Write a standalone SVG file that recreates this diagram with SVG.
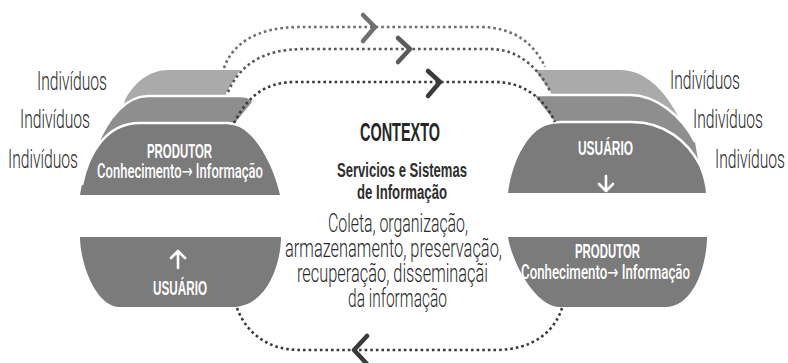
<svg xmlns="http://www.w3.org/2000/svg" width="788" height="363" viewBox="0 0 788 363">
<style>
text{font-family:"Liberation Sans Narrow","Liberation Sans",Arial,sans-serif}
.ind{font-family:Roboto,"Liberation Sans",sans-serif;font-weight:300;font-size:25px;fill:#2a2a2a}
.hd{font-size:21px;font-weight:bold;fill:#fff}
.sub{font-family:Roboto,"DejaVu Sans",sans-serif;font-weight:500;font-size:20px;fill:#fff}
.ctx{font-size:26px;font-weight:bold;fill:#262626}
.svc{font-size:21px;font-weight:bold;fill:#2e2e2e}
.body{font-family:Roboto,"Liberation Sans",sans-serif;font-weight:300;font-size:25px;fill:#2a2a2a}
.l1{fill:#7b7b7b}
.l2{fill:#8e8e8e}
.l3{fill:#aaaaaa}
.edge{fill:none;stroke:#fff;stroke-width:2.5}
.arr{fill:none;stroke:#fff;stroke-width:2.6;stroke-linecap:round;stroke-linejoin:round}
.dot{fill:none;stroke-width:2.6;stroke-dasharray:2.6 3}
.chev{fill:none;stroke-width:4.5;stroke-linecap:round;stroke-linejoin:round}
</style>

<g id="produtor-top-left">
  <path class="l3" d="M226,93 L240,70 H168 C150,70 135,82 126,98 L122,108 L226,108 Z"/>
  <path class="l2" d="M234,124 L252,102 Q250,96 240,96 H148 C128,96 108,115 95,150 L150,160 Z"/>
  <path class="edge" d="M95,150 C108,115 128,96 148,96 H240 Q249,96 251,100"/>
  <path class="l1" d="M80,195 C85,160 105,123 140,123 H227 C250,123 272,160 280,195 Z"/>
  <path class="edge" d="M82,185 C88,155 105,123 140,123 H227 C245,123 260,140 268,158"/>
  <text class="ind" x="37" y="90" textLength="70" lengthAdjust="spacingAndGlyphs">Indivíduos</text>
  <text class="ind" x="20" y="128" textLength="70" lengthAdjust="spacingAndGlyphs">Indivíduos</text>
  <text class="ind" x="8" y="168" textLength="70" lengthAdjust="spacingAndGlyphs">Indivíduos</text>
  <text class="hd" x="147" y="158" textLength="65" lengthAdjust="spacingAndGlyphs">PRODUTOR</text>
  <text class="sub" x="97" y="178" textLength="166" lengthAdjust="spacingAndGlyphs">Conhecimento→ Informação</text>
</g>

<g id="usuario-top-right">
  <path class="l3" d="M552,94 L535,70 H620 C645,70 665,90 680,120 L690,140 L600,140 Z"/>
  <path class="l2" d="M555,122 L536,97 Q535,95 540,95 H630 C655,95 682,115 695,142 L698,160 L620,170 Z"/>
  <path class="edge" d="M537,95 H630 C655,95 682,115 695,142"/>
  <path class="l1" d="M508,193 C512,160 530,122 560,122 H632 C680,122 703,160 706,193 Z"/>
  <path class="edge" d="M520,150 C528,132 540,122 560,122 H632 C665,122 688,142 700,165"/>
  <text class="ind" x="670" y="89" textLength="70" lengthAdjust="spacingAndGlyphs">Indivíduos</text>
  <text class="ind" x="693" y="128" textLength="70" lengthAdjust="spacingAndGlyphs">Indivíduos</text>
  <text class="ind" x="715" y="168" textLength="70" lengthAdjust="spacingAndGlyphs">Indivíduos</text>
  <text class="hd" x="578" y="155" textLength="55" lengthAdjust="spacingAndGlyphs">USUÁRIO</text>
  <path class="arr" d="M606,176 V191 M599,184 L606,191 L613,184"/>
</g>

<g id="usuario-bottom-left">
  <path class="l1" d="M80,237 H281 C281,262 268,307 232,307 H120 C95,307 80,262 80,237 Z"/>
  <path class="arr" d="M178,268 V251 M171,258 L178,251 L185,258"/>
  <text class="hd" x="153" y="295" textLength="54" lengthAdjust="spacingAndGlyphs">USUÁRIO</text>
</g>

<g id="produtor-bottom-right">
  <path class="l1" d="M508,237 H707 C707,262 695,307 665,307 H560 C535,307 512,262 508,237 Z"/>
  <text class="hd" x="575" y="258" textLength="65" lengthAdjust="spacingAndGlyphs">PRODUTOR</text>
  <text class="sub" x="521" y="279" textLength="169" lengthAdjust="spacingAndGlyphs">Conhecimento→ Informação</text>
</g>

<g id="contexto">
  <text class="ctx" x="360" y="141" textLength="80" lengthAdjust="spacingAndGlyphs">CONTEXTO</text>
  <text class="svc" x="337" y="177" textLength="130" lengthAdjust="spacingAndGlyphs">Servicios e Sistemas</text>
  <text class="svc" x="357" y="199" textLength="90" lengthAdjust="spacingAndGlyphs">de Informação</text>
  <text class="body" x="328" y="232" textLength="140" lengthAdjust="spacingAndGlyphs">Coleta, organização,</text>
  <text class="body" x="285" y="257" textLength="217" lengthAdjust="spacingAndGlyphs">armazenamento, preservação,</text>
  <text class="body" x="297" y="282" textLength="191" lengthAdjust="spacingAndGlyphs">recuperação, disseminaçãi</text>
  <text class="body" x="348" y="307" textLength="99" lengthAdjust="spacingAndGlyphs">da informação</text>
</g>

<g id="connectors">
  <path class="dot" stroke="#6e6e6e" d="M224,68 C232,45 255,27 300,27 H480 C515,27 535,45 545,67"/>
  <path class="dot" stroke="#555" d="M228,92 C240,65 262,49 305,49 H490 C520,49 540,70 551,93"/>
  <path class="dot" stroke="#3a3a3a" d="M234,123 C246,100 262,82 295,82 H495 C525,82 545,100 555,122"/>
  <path class="dot" stroke="#3a3a3a" d="M562,308 C555,330 535,350 495,350 H300 C265,350 245,330 237,308"/>
  <path class="chev" stroke="#707070" d="M363,15 L375,27 L363,41"/>
  <path class="chev" stroke="#5a5a5a" d="M398,38 L410,49 L398,62"/>
  <path class="chev" stroke="#3a3a3a" d="M428,71 L440,82 L428,96"/>
  <path class="chev" stroke="#3a3a3a" d="M367,336 L354,350 L367,364"/>
</g>
</svg>
